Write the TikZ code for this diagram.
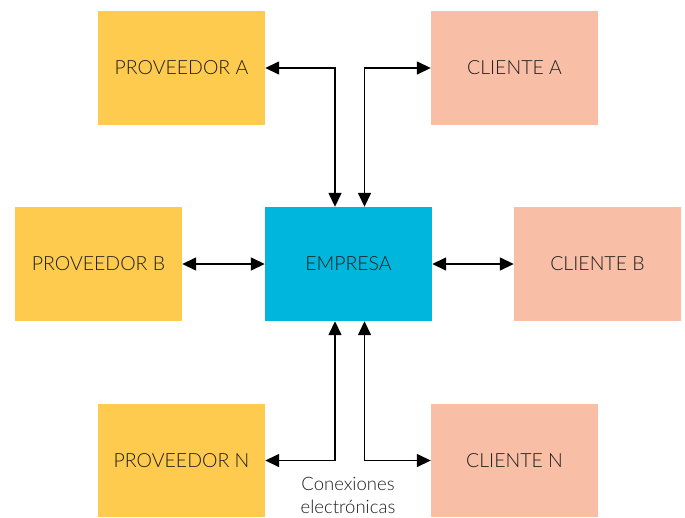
\documentclass[tikz,border=0pt]{standalone}
\usepackage{fontspec}
\setmainfont{Lato}[UprightFont=* Light]
\usetikzlibrary{arrows.meta}
\definecolor{prov}{HTML}{FECB4F}
\definecolor{cli}{HTML}{F9BFA6}
\definecolor{emp}{HTML}{00B6DC}
\definecolor{txt}{HTML}{1E1E1E}
\begin{document}
\begin{tikzpicture}[x=1pt,y=-1pt,
  box/.style={rectangle,inner sep=0pt,minimum width=167pt,minimum height=114pt,
    text=txt,font=\fontsize{19.5}{22}\selectfont},
  provbox/.style={box,fill=prov},
  clibox/.style={box,fill=cli},
  empbox/.style={box,fill=emp},
  arr/.style={{Triangle[length=14pt,width=13pt]}-{Triangle[length=14pt,width=13pt]},line width=1.5pt,black},
  note/.style={text=txt,font=\fontsize{18.5}{23}\selectfont,align=center,inner sep=0pt}]
\useasboundingbox (0,0) rectangle (685,517);
% suppliers, company and customers
\node[provbox] (pa) at (181.5,68) {PROVEEDOR A};
\node[clibox]  (ca) at (514.5,68) {CLIENTE A};
\node[provbox] (pb) at (98.5,264) {PROVEEDOR B};
\node[empbox]  (em) at (348.5,264) {EMPRESA};
\node[clibox]  (cb) at (597.5,264) {CLIENTE B};
\node[provbox,minimum height=113pt] (pn) at (181.5,460.5) {PROVEEDOR N};
\node[clibox,minimum height=113pt]  (cn) at (514.5,460.5) {CLIENTE N};
% electronic links
\draw[arr] (pa.east) -| ([xshift=-13.5pt]em.north);
\draw[arr] (ca.west) -| ([xshift=16pt]em.north);
\draw[arr] (pb.east) -- (em.west);
\draw[arr] (em.east) -- (cb.west);
\draw[arr] (pn.east) -| ([xshift=-13.5pt]em.south);
\draw[arr] (cn.west) -| ([xshift=16pt]em.south);
\node[note] (lbl) at (348,495.5) {Conexiones\\electrónicas};
\end{tikzpicture}
\end{document}
